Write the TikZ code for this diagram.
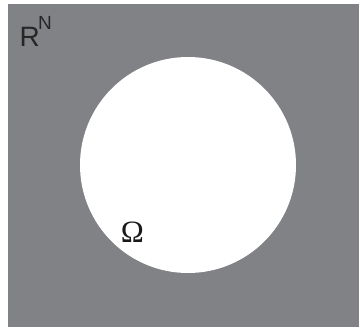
\documentclass[tikz,border=0pt]{standalone}
\usepackage{fontspec}
\setmainfont{Liberation Serif}
\newfontfamily\labelsans{Liberation Sans}
\definecolor{spacegray}{RGB}{128,130,133}
\begin{document}
\begin{tikzpicture}[x=1pt,y=1pt,
  spacelabel/.style={inner sep=0pt,font=\labelsans,text=black!85},
  domainlabel/.style={inner sep=0pt,text=black!90}]
\useasboundingbox (0,0) rectangle (359,-327);
\fill[spacegray] (8,-4) rectangle (359,-327);
\node[circle,fill=white,minimum size=216pt,inner sep=0pt] (domain) at (188,-165) {};
\node[spacelabel,anchor=base west,font=\labelsans\fontsize{28}{28}\selectfont] (R) at (19.5,-46.5) {R};
\node[spacelabel,anchor=base west,font=\labelsans\fontsize{19}{19}\selectfont] (N) at (38,-29) {N};
\node[domainlabel,anchor=base,font=\fontsize{31}{31}\selectfont] (omega) at (132.5,-242.5) {Ω};
\end{tikzpicture}
\end{document}
